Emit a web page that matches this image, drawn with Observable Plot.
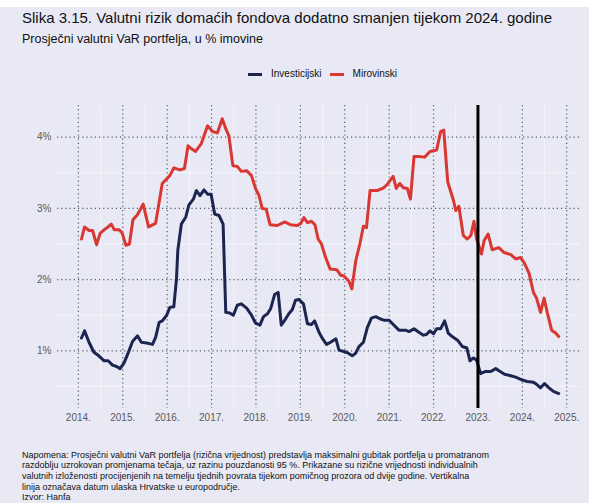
<!DOCTYPE html>
<html><head><meta charset="utf-8">
<script src="https://cdn.jsdelivr.net/npm/d3@7"></script>
<script src="https://cdn.jsdelivr.net/npm/@observablehq/plot@0.6"></script>
<style>
body{margin:0;background:#fff;font-family:"Liberation Sans",Arial,sans-serif;color:#111}
#wrap{position:relative;width:589px;height:503px;overflow:hidden}
#bg{position:absolute;left:0;top:7px;width:589px;height:496px;background:#e8e9f5}
#title{position:absolute;left:22px;top:9px;font-size:15px;line-height:17px;white-space:nowrap}
#subtitle{position:absolute;left:22px;top:32px;font-size:12.5px;line-height:15px;white-space:nowrap}
#legend{position:absolute;left:248px;top:68px;font-size:10px;line-height:12px;white-space:nowrap;display:flex;align-items:center}
#legend .sw{display:inline-block;width:14px;height:3px;margin-right:9px}
#legend .lab{margin-right:8px}
#chart{position:absolute;left:0;top:95px}
#note{position:absolute;left:22px;top:449.5px;font-size:9px;line-height:10.7px;white-space:nowrap}
</style></head>
<body>
<div id="wrap">
<div id="bg"></div>
<div id="title">Slika 3.15. Valutni rizik domaćih fondova dodatno smanjen tijekom 2024. godine</div>
<div id="subtitle">Prosječni valutni VaR portfelja, u % imovine</div>
<div id="legend"><span class="sw" style="background:#1b2550"></span><span class="lab">Investicijski</span><span class="sw" style="background:#d93732"></span><span class="lab">Mirovinski</span></div>
<div id="chart"></div>
<div id="note">Napomena: Prosječni valutni VaR portfelja (rizična vrijednost) predstavlja maksimalni gubitak portfelja u promatranom<br>razdoblju uzrokovan promjenama tečaja, uz razinu pouzdanosti 95 %. Prikazane su rizične vrijednosti individualnih<br>valutnih izloženosti procijenjenih na temelju tjednih povrata tijekom pomičnog prozora od dvije godine. Vertikalna<br>linija označava datum ulaska Hrvatske u europodručje.<br>Izvor: Hanfa</div>
</div>
<script>
const xTicks = [2014,2015,2016,2017,2018,2019,2020,2021,2022,2023,2024,2025];
const yTicks = [1,2,3,4];
const euroEntry = [2023];

const invYears = [2014.07,2014.14,2014.24,2014.35,2014.46,2014.58,2014.67,2014.77,2014.86,2014.94,2015.03,2015.14,2015.22,2015.33,2015.42,2015.54,2015.67,2015.74,2015.82,2015.89,2015.99,2016.06,2016.15,2016.21,2016.24,2016.32,2016.42,2016.49,2016.59,2016.66,2016.74,2016.83,2016.91,2016.99,2017.07,2017.17,2017.26,2017.32,2017.41,2017.49,2017.58,2017.67,2017.79,2017.90,2017.99,2018.09,2018.17,2018.26,2018.33,2018.42,2018.50,2018.57,2018.67,2018.74,2018.82,2018.89,2018.97,2019.07,2019.16,2019.25,2019.32,2019.42,2019.50,2019.59,2019.68,2019.80,2019.87,2019.98,2020.07,2020.17,2020.25,2020.32,2020.42,2020.51,2020.60,2020.70,2020.79,2020.88,2021.00,2021.11,2021.22,2021.37,2021.45,2021.56,2021.67,2021.77,2021.84,2021.92,2022.00,2022.07,2022.16,2022.25,2022.33,2022.42,2022.54,2022.65,2022.75,2022.82,2022.90,2022.97,2023.06,2023.17,2023.29,2023.40,2023.50,2023.60,2023.74,2023.85,2024.00,2024.11,2024.25,2024.32,2024.41,2024.50,2024.60,2024.70,2024.82];
const invValues = [1.18,1.28,1.12,0.98,0.93,0.86,0.86,0.80,0.78,0.75,0.83,1.00,1.13,1.21,1.12,1.11,1.09,1.19,1.40,1.42,1.50,1.61,1.62,2.01,2.41,2.78,2.88,3.05,3.13,3.25,3.18,3.26,3.20,3.20,2.92,2.90,2.78,1.54,1.53,1.50,1.64,1.66,1.60,1.50,1.39,1.36,1.48,1.52,1.59,1.79,1.82,1.36,1.45,1.52,1.58,1.71,1.72,1.66,1.38,1.37,1.42,1.26,1.17,1.09,1.12,1.17,1.01,0.99,0.97,0.93,0.97,1.06,1.12,1.33,1.46,1.48,1.45,1.43,1.43,1.36,1.29,1.29,1.27,1.31,1.26,1.22,1.23,1.28,1.24,1.31,1.31,1.42,1.25,1.20,1.15,1.06,1.04,0.86,0.90,0.87,0.68,0.71,0.71,0.75,0.71,0.67,0.65,0.63,0.59,0.57,0.56,0.53,0.48,0.54,0.48,0.43,0.40];

const mirYears = [2014.07,2014.14,2014.24,2014.32,2014.41,2014.49,2014.58,2014.65,2014.74,2014.81,2014.92,2014.99,2015.07,2015.15,2015.23,2015.33,2015.46,2015.58,2015.74,2015.89,2016.06,2016.15,2016.29,2016.39,2016.47,2016.54,2016.64,2016.77,2016.91,2017.02,2017.13,2017.24,2017.32,2017.39,2017.48,2017.58,2017.67,2017.79,2017.90,2017.99,2018.07,2018.14,2018.23,2018.32,2018.48,2018.65,2018.78,2018.93,2019.01,2019.08,2019.16,2019.25,2019.33,2019.40,2019.47,2019.57,2019.67,2019.82,2019.91,2019.98,2020.09,2020.16,2020.25,2020.34,2020.42,2020.49,2020.57,2020.73,2020.88,2020.96,2021.09,2021.16,2021.24,2021.32,2021.41,2021.48,2021.56,2021.67,2021.80,2021.92,2022.07,2022.16,2022.23,2022.32,2022.45,2022.50,2022.57,2022.67,2022.76,2022.84,2022.91,2022.97,2023.08,2023.14,2023.23,2023.32,2023.47,2023.59,2023.74,2023.85,2023.96,2024.04,2024.15,2024.25,2024.32,2024.41,2024.49,2024.56,2024.66,2024.75,2024.82];
const mirValues = [2.57,2.74,2.69,2.69,2.49,2.65,2.70,2.73,2.78,2.70,2.70,2.65,2.48,2.50,2.84,2.91,3.06,2.74,2.79,3.35,3.46,3.57,3.54,3.56,3.88,3.84,3.80,3.91,4.16,4.08,4.06,4.26,4.12,4.02,3.60,3.59,3.52,3.53,3.46,3.28,3.18,3.00,2.99,2.77,2.76,2.81,2.77,2.76,2.79,2.87,2.80,2.82,2.77,2.57,2.51,2.31,2.15,2.14,2.06,2.05,1.98,1.87,2.27,2.50,2.75,2.73,3.25,3.25,3.29,3.34,3.45,3.28,3.35,3.29,3.28,3.13,3.73,3.73,3.72,3.80,3.82,4.08,4.10,3.37,3.11,2.97,3.03,2.62,2.57,2.62,2.82,2.57,2.36,2.55,2.64,2.42,2.45,2.38,2.35,2.29,2.31,2.24,2.09,1.82,1.74,1.54,1.74,1.54,1.29,1.25,1.20];

const inv = invYears.map((t, i) => ({t, v: invValues[i]}));
const mir = mirYears.map((t, i) => ({t, v: mirValues[i]}));
const minorX = xTicks.map(d => d - 0.5).concat([2025.5]).filter(d => d > 2013.53 && d < 2025.31);
const minorY = [0.5, 1.5, 2.5, 3.5];

const chart = Plot.plot({
  width: 589, height: 335,
  marginLeft: 57, marginRight: 9, marginTop: 10, marginBottom: 22,
  style: {background: "transparent", fontFamily: "Liberation Sans, Arial, sans-serif", fontSize: "10px", color: "#5a5a5a", overflow: "visible"},
  x: {domain: [2013.53, 2025.31], label: null},
  y: {domain: [0.19, 4.445], label: null},
  marks: [
    Plot.ruleX(minorX, {stroke: "#ffffff", strokeOpacity: 0.55, strokeWidth: 1}),
    Plot.ruleY(minorY, {stroke: "#ffffff", strokeOpacity: 0.55, strokeWidth: 1}),
    Plot.ruleY(yTicks, {stroke: "#555b66", strokeWidth: 1.2, strokeDasharray: "1.2,3"}),
    Plot.ruleX(xTicks, {stroke: "#555b66", strokeWidth: 1.2, strokeDasharray: "1.2,3"}),
    Plot.line(mir, {x: "t", y: "v", stroke: "#d93732", strokeWidth: 3, strokeLinejoin: "round"}),
    Plot.line(inv, {x: "t", y: "v", stroke: "#1b2550", strokeWidth: 3, strokeLinejoin: "round"}),
    Plot.ruleX(euroEntry, {stroke: "#000", strokeWidth: 3}),
    Plot.axisX(xTicks, {tickSize: 0, tickPadding: 5, tickFormat: d => d + ".", fill: "#5a5a5a"}),
    Plot.axisY(yTicks, {tickSize: 0, tickPadding: 6, tickFormat: d => d + "%", fill: "#5a5a5a"})
  ]
});
document.getElementById("chart").appendChild(chart);
</script>
</body></html>
